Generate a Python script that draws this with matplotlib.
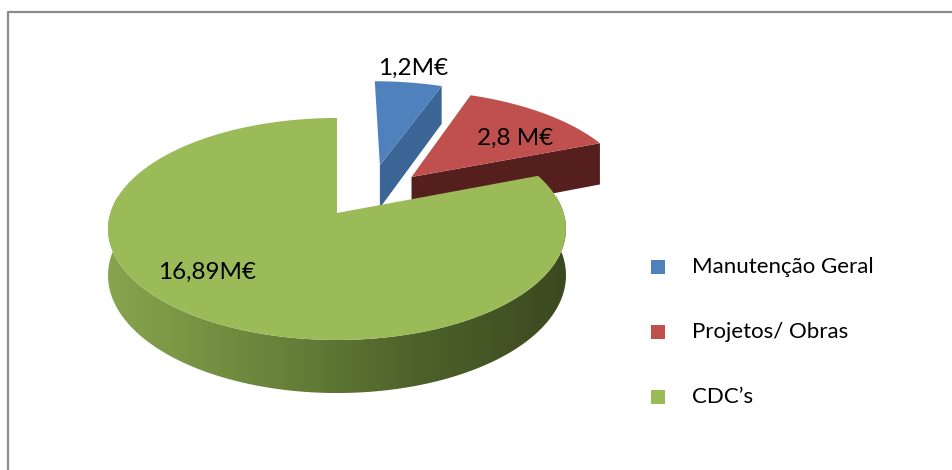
import numpy as np
import matplotlib
matplotlib.use("Agg")
import matplotlib.pyplot as plt
from matplotlib.patches import Polygon, Rectangle
from matplotlib.colors import LinearSegmentedColormap

# data
categories = ["Manutenção Geral", "Projetos/ Obras", "CDC’s"]
values = [1.2, 2.8, 16.89]
labels = ["1,2M€", "2,8 M€", "16,89M€"]

# style
top_colors = ["#4f81bd", "#c0504d", "#9bbb59"]
side_colors = ["#3b6594", "#551f1d", "#6d8a3c"]
explode = [0.51, 0.49, 0.0]
explode_turn = [-13, 0, 0]   # degrees, nudges the explode direction
label_pos = [(413, 68), (515, 138), (207, 272)]

plt.rcParams["font.family"] = ["Lato", "DejaVu Sans"]

# projection of the tilted pie (pixel coordinates)
CX, CY = 337, 213
R, S, K, D = 226.6, 108.7, 0.144, 45.4


def proj(x, y, z=0.0):
    w = 1 + K * y
    return CX + R * x / w, CY + (-S * y + D * z) / w


fig = plt.figure(figsize=(9.52, 4.70), dpi=100)
ax = fig.add_axes([0, 0, 1, 1])
ax.axis("off")

# frame
ax.plot([8, 8, 952], [470, 12, 12], color="#8c8c8c", lw=1.6, solid_capstyle="butt")

rim_cmap = LinearSegmentedColormap.from_list(
    "g", [(0, "#88a44d"), (0.35, "#6a853b"), (0.65, "#4f642b"), (1, "#3b4920")])

total = sum(values)
start = 90.0
for i, v in enumerate(values):
    span = v / total * 360
    t1, t0 = start, start - span          # clockwise from 12 o'clock
    start = t0
    mid = np.radians((t0 + t1) / 2 + explode_turn[i])
    ox, oy = explode[i] * np.cos(mid), explode[i] * np.sin(mid)
    ts = np.radians(np.linspace(t0, t1, 300))

    def pt(t, r=1.0, z=0.0):
        return proj(ox + r * np.cos(t), oy + r * np.sin(t), z)

    # radial face on the clockwise edge (visible for exploded slices)
    if explode[i] > 0:
        a = np.radians(t0)
        quad = [pt(a, 0), pt(a), pt(a, 1, 1), pt(a, 0, 1)]
        ax.add_patch(Polygon(quad, closed=True, facecolor=side_colors[i],
                             edgecolor="none", zorder=2 + i))

    # front rim with a left-to-right shading
    rt = ts[np.sin(ts) < 0.17]
    if len(rt) > 1:
        top = [pt(t) for t in rt]
        bot = [pt(t, 1, 1) for t in rt[::-1]]
        rim = Polygon(top + bot, closed=True, facecolor="none",
                      edgecolor="none", zorder=2 + i)
        ax.add_patch(rim)
        xs = [p[0] for p in top]
        ys = [p[1] for p in top + bot]
        grad = np.linspace(0, 1, 256).reshape(1, -1)
        im = ax.imshow(grad, cmap=rim_cmap, aspect="auto",
                       extent=[min(xs), max(xs), max(ys), min(ys)],
                       zorder=2 + i)
        im.set_clip_path(rim)

    # top face
    face = [pt(0, 0)] + [pt(t) for t in ts]
    ax.add_patch(Polygon(face, closed=True, facecolor=top_colors[i],
                         edgecolor="none", zorder=2.5 + i))

ax.set_xlim(0, 952)
ax.set_ylim(470, 0)

# data labels
for (x, y), s in zip(label_pos, labels):
    ax.text(x, y, s, fontsize=17.5, ha="center", va="center", color="black", zorder=10)

# legend
for i, name in enumerate(categories):
    y = 267 + i * 65
    ax.add_patch(Rectangle((651, y - 7), 14, 14, facecolor=top_colors[i],
                           edgecolor="none", zorder=10))
    ax.text(692, y, name, fontsize=16, ha="left", va="center", color="black", zorder=10)

fig.savefig("out.png", dpi=100)
